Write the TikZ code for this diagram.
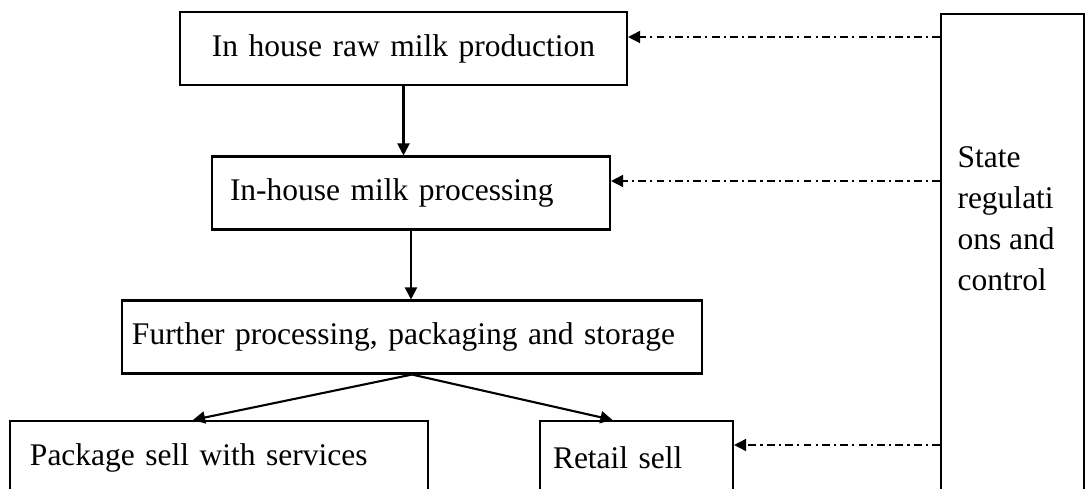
\documentclass[tikz,border=0pt]{standalone}
\usepackage{fontspec}
\setmainfont{Liberation Serif}
\usetikzlibrary{arrows.meta,positioning,calc}

\begin{document}
\begin{tikzpicture}[x=0.381pt, y=-0.381pt,
    stage/.style={draw, line width=0.8pt, minimum height=73*0.381pt, inner ysep=0pt,
        align=left, font=\fontsize{12}{15.6}\selectfont},
    arrow/.style={-{Triangle[length=4.6pt, width=4.6pt]}, line width=0.8pt},
    ctrl/.style={-{Triangle[length=4.6pt, width=4.6pt]}, line width=0.6pt,
        dash pattern=on 3pt off 1.6pt on 0.8pt off 1.6pt}
]
    \useasboundingbox (0,0) rectangle (1089,489);
    \clip (0,0) rectangle (1089,489);

    % process chain
    \node[stage, align=center, text width=427*0.381pt, inner xsep=10*0.381pt] (raw) at (403.5,48.5) {In house raw milk production};
    \node[stage, text width=362*0.381pt, inner xsep=18*0.381pt] (proc) at (411,193) {In-house milk processing};
    \node[stage, text width=560*0.381pt, inner xsep=10*0.381pt] (further) at (412,337) {Further processing, packaging and storage};
    \node[stage, text width=378*0.381pt, inner xsep=20*0.381pt] (pack) at (219,457.5) {Package sell with services};
    \node[stage, text width=167*0.381pt, inner xsep=13*0.381pt] (retail) at (636.5,457.5) {Retail sell};

    % state control column
    \node[draw, line width=0.8pt, anchor=north west, minimum width=143*0.381pt,
        minimum height=560*0.381pt] (reg) at (940,13) {};
    \node[anchor=north west, inner sep=0pt, align=left,
        font=\fontsize{12}{15.6}\selectfont] (regtext) at (957,146) {State\\regulati\\ons and\\control};

    \draw[arrow] (raw.south) -- (raw.south |- proc.north);
    \draw[arrow] (proc.south) -- (proc.south |- further.north);
    \draw[arrow] (further.south) -- ([xshift=-26*0.381pt]pack.north);
    \draw[arrow] (further.south) -- ([xshift=-24*0.381pt]retail.north);

    \coordinate (c1) at ([yshift=11.5*0.381pt]raw.east);
    \coordinate (c2) at ([yshift=12*0.381pt]proc.east);
    \coordinate (c3) at ([yshift=12.5*0.381pt]retail.east);
    \draw[ctrl] (reg.west |- c1) -- (c1);
    \draw[ctrl] (reg.west |- c2) -- (c2);
    \draw[ctrl] (reg.west |- c3) -- (c3);
\end{tikzpicture}
\end{document}
